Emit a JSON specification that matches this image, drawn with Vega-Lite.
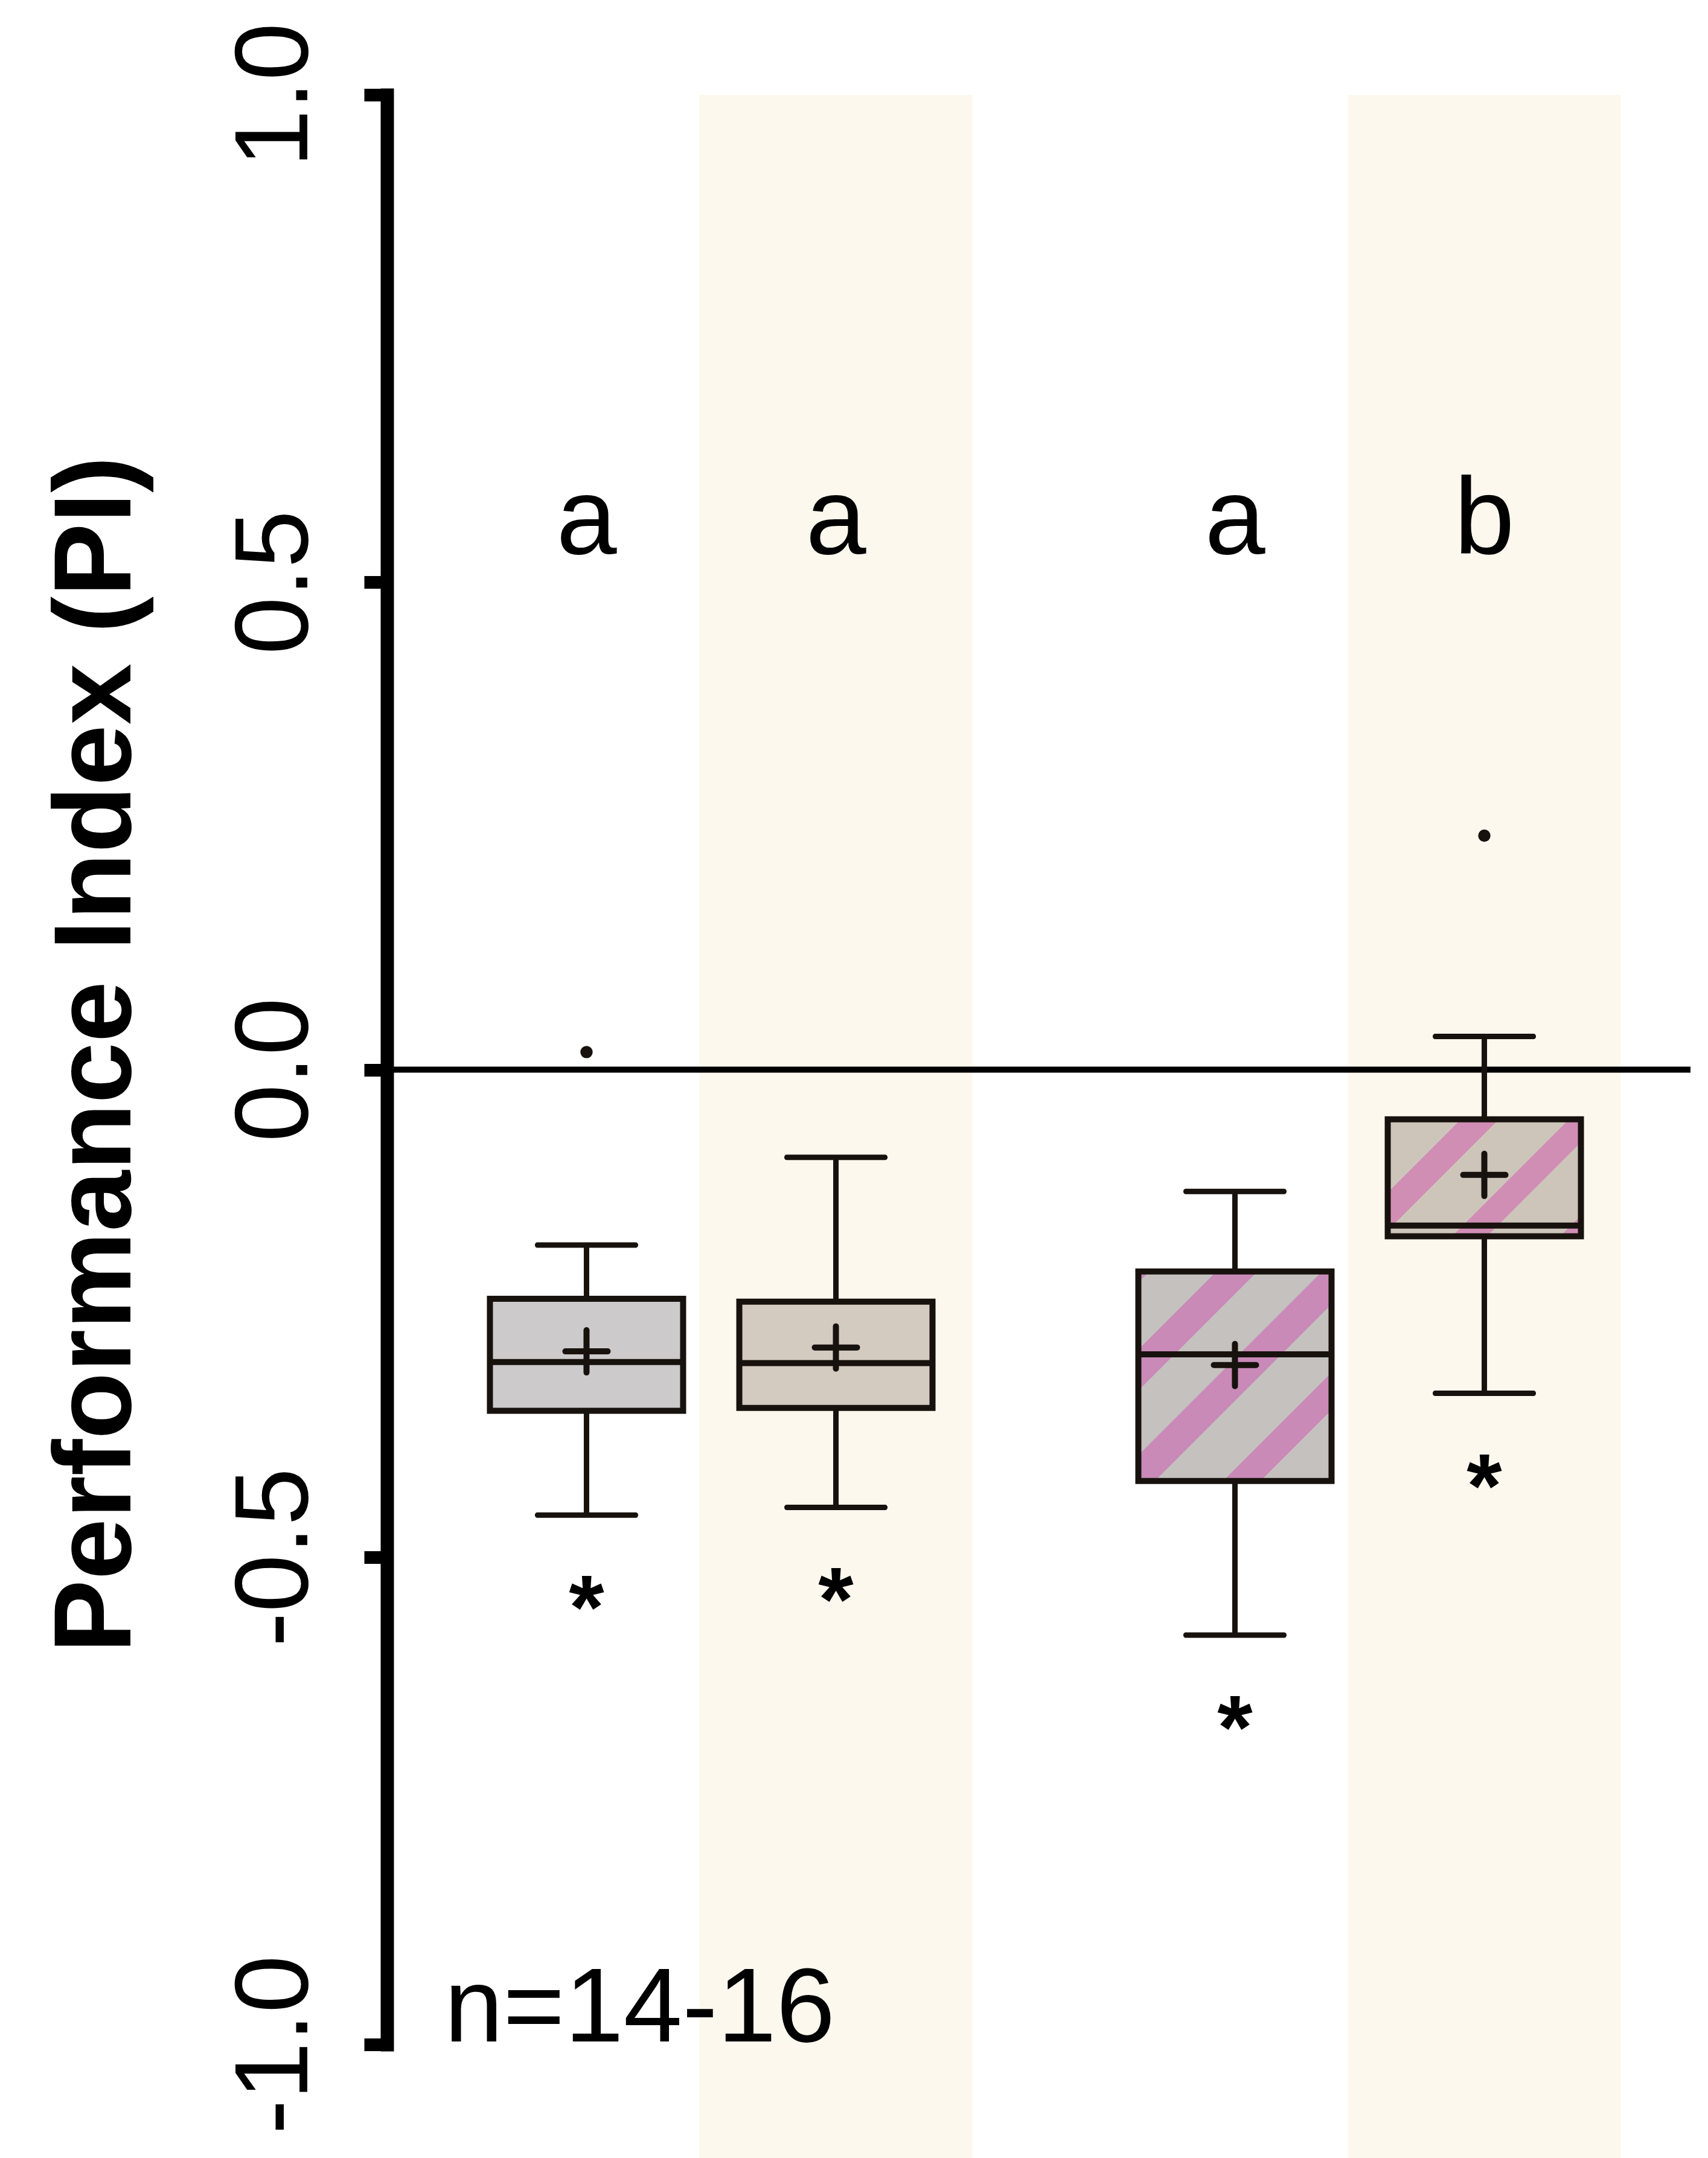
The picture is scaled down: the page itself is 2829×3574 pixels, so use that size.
{
  "$schema": "https://vega.github.io/schema/vega-lite/v6.json",
  "width": 2155,
  "height": 3229,
  "autosize": {"type": "none"},
  "padding": {"left": 645, "top": 157, "right": 29, "bottom": 188},
  "background": "white",
  "config": {
    "view": {"stroke": null},
    "font": "Liberation Sans",
    "axisY": {
      "domainColor": "#000000",
      "domainWidth": 22,
      "domainCap": "square",
      "tickColor": "#000000",
      "tickWidth": 21,
      "tickSize": 38,
      "offset": 4,
      "grid": false,
      "labelFont": "Liberation Sans",
      "labelFontSize": 172,
      "labelColor": "#000000",
      "labelAngle": 270,
      "labelAlign": "center",
      "labelBaseline": "alphabetic",
      "labelPadding": 95,
      "labelFlush": false,
      "labelOverlap": false,
      "labelBound": false,
      "labelLimit": 0,
      "titleFont": "Liberation Sans",
      "titleFontSize": 182,
      "titleFontWeight": "bold",
      "titleColor": "#000000",
      "titleLimit": 0
    }
  },
  "datasets": {
    "boxes": [
      {"set": "Set 1", "cond": "A", "lower": -0.457, "q1": -0.350, "median": -0.300, "q3": -0.235, "upper": -0.180, "mean": -0.289, "letter": "a", "sig": "*"},
      {"set": "Set 1", "cond": "B", "lower": -0.449, "q1": -0.347, "median": -0.301, "q3": -0.238, "upper": -0.090, "mean": -0.285, "letter": "a", "sig": "*"},
      {"set": "Set 2", "cond": "A", "lower": -0.580, "q1": -0.422, "median": -0.292, "q3": -0.207, "upper": -0.125, "mean": -0.303, "letter": "a", "sig": "*"},
      {"set": "Set 2", "cond": "B", "lower": -0.332, "q1": -0.171, "median": -0.160, "q3": -0.051, "upper": 0.034, "mean": -0.108, "letter": "b", "sig": "*"}
    ],
    "outliers": [
      {"set": "Set 1", "cond": "A", "value": 0.018},
      {"set": "Set 2", "cond": "B", "value": 0.240}
    ],
    "notes": [
      {"set": "Set 1", "note": "n=14-16", "level": -1.0}
    ]
  },
  "layer": [
    {
      "data": {"name": "boxes"},
      "transform": [{"filter": "datum.cond === 'B'"}],
      "mark": {"type": "bar", "width": 452, "fill": "#fdf8ee", "stroke": null},
      "encoding": {
        "x": {"field": "set", "type": "nominal", "scale": {"type": "band", "domain": ["Set 1", "Set 2"], "range": [-4, 2144], "paddingInner": 0, "paddingOuter": 0}, "axis": null},
        "xOffset": {"field": "cond", "type": "nominal", "scale": {"domain": ["A", "B"], "paddingInner": 0, "paddingOuter": 0.3}},
        "y": {"datum": 1, "type": "quantitative", "scale": {"domain": [-1, 1], "nice": false, "zero": false}},
        "y2": {"datum": -1.12}
      }
    },
    {
      "data": {"values": [{"ref": 0}]},
      "mark": {"type": "rule", "strokeWidth": 10, "color": "#000000"},
      "encoding": {
        "y": {"field": "ref", "type": "quantitative"}
      }
    },
    {
      "data": {"name": "boxes"},
      "mark": {"type": "rule", "strokeWidth": 9, "color": "#17120d"},
      "encoding": {
        "x": {"field": "set", "type": "nominal"},
        "xOffset": {"field": "cond", "type": "nominal"},
        "y": {"field": "lower", "type": "quantitative", "axis": {"values": [-1, -0.5, 0, 0.5, 1], "labelExpr": "datum.value < 0 ? '-' + format(-datum.value, '.1f') : format(datum.value, '.1f')", "title": "Performance Index (PI)", "titleX": -426, "titleY": 1589, "titleAngle": 270, "titleAlign": "center", "titleBaseline": "alphabetic"}},
        "y2": {"field": "upper"}
      }
    },
    {
      "data": {"name": "boxes"},
      "mark": {"type": "tick", "size": 171, "thickness": 9, "color": "#17120d", "opacity": 1, "cornerRadius": 4},
      "encoding": {
        "x": {"field": "set", "type": "nominal"},
        "xOffset": {"field": "cond", "type": "nominal"},
        "y": {"field": "lower", "type": "quantitative"}
      }
    },
    {
      "data": {"name": "boxes"},
      "mark": {"type": "tick", "size": 171, "thickness": 9, "color": "#17120d", "opacity": 1, "cornerRadius": 4},
      "encoding": {
        "x": {"field": "set", "type": "nominal"},
        "xOffset": {"field": "cond", "type": "nominal"},
        "y": {"field": "upper", "type": "quantitative"}
      }
    },
    {
      "data": {"name": "boxes"},
      "transform": [{"filter": "datum.set === 'Set 1'"}],
      "mark": {"type": "bar", "width": 320, "stroke": "#17120d", "strokeWidth": 10},
      "encoding": {
        "x": {"field": "set", "type": "nominal"},
        "xOffset": {"field": "cond", "type": "nominal"},
        "y": {"field": "q1", "type": "quantitative"},
        "y2": {"field": "q3"},
        "fill": {"field": "cond", "type": "nominal", "scale": {"domain": ["A", "B"], "range": ["#cccacb", "#d3cac0"]}, "legend": null}
      }
    },
    {
      "data": {"name": "boxes"},
      "transform": [{"filter": "datum.set === 'Set 2' && datum.cond === 'A'"}],
      "mark": {
        "type": "bar", "width": 320, "stroke": "#17120d", "strokeWidth": 10,
        "fill": {
          "gradient": "linear", "x1": 0, "y1": 0, "x2": 0.958, "y2": 1.039,
          "stops": [
            {"offset": 0, "color": "#c98ab8"},
            {"offset": 0.0275, "color": "#c98ab8"},
            {"offset": 0.0275, "color": "#c4c1bf"},
            {"offset": 0.194, "color": "#c4c1bf"},
            {"offset": 0.194, "color": "#c98ab8"},
            {"offset": 0.296, "color": "#c98ab8"},
            {"offset": 0.296, "color": "#c4c1bf"},
            {"offset": 0.456, "color": "#c4c1bf"},
            {"offset": 0.456, "color": "#c98ab8"},
            {"offset": 0.561, "color": "#c98ab8"},
            {"offset": 0.561, "color": "#c4c1bf"},
            {"offset": 0.730, "color": "#c4c1bf"},
            {"offset": 0.730, "color": "#c98ab8"},
            {"offset": 0.823, "color": "#c98ab8"},
            {"offset": 0.823, "color": "#c4c1bf"},
            {"offset": 1, "color": "#c4c1bf"}
          ]
        }
      },
      "encoding": {
        "x": {"field": "set", "type": "nominal"},
        "xOffset": {"field": "cond", "type": "nominal"},
        "y": {"field": "q1", "type": "quantitative"},
        "y2": {"field": "q3"}
      }
    },
    {
      "data": {"name": "boxes"},
      "transform": [{"filter": "datum.set === 'Set 2' && datum.cond === 'B'"}],
      "mark": {
        "type": "bar", "width": 320, "stroke": "#17120d", "strokeWidth": 10,
        "fill": {
          "gradient": "linear", "x1": 0, "y1": 0, "x2": 1.175, "y2": 0.711,
          "stops": [
            {"offset": 0, "color": "#cdc5ba"},
            {"offset": 0.236, "color": "#cdc5ba"},
            {"offset": 0.236, "color": "#d18eb5"},
            {"offset": 0.358, "color": "#d18eb5"},
            {"offset": 0.358, "color": "#cdc5ba"},
            {"offset": 0.584, "color": "#cdc5ba"},
            {"offset": 0.584, "color": "#d18eb5"},
            {"offset": 0.697, "color": "#d18eb5"},
            {"offset": 0.697, "color": "#cdc5ba"},
            {"offset": 0.933, "color": "#cdc5ba"},
            {"offset": 0.933, "color": "#d18eb5"},
            {"offset": 1, "color": "#d18eb5"}
          ]
        }
      },
      "encoding": {
        "x": {"field": "set", "type": "nominal"},
        "xOffset": {"field": "cond", "type": "nominal"},
        "y": {"field": "q1", "type": "quantitative"},
        "y2": {"field": "q3"}
      }
    },
    {
      "data": {"name": "boxes"},
      "mark": {"type": "tick", "size": 320, "thickness": 10, "color": "#17120d", "opacity": 1},
      "encoding": {
        "x": {"field": "set", "type": "nominal"},
        "xOffset": {"field": "cond", "type": "nominal"},
        "y": {"field": "median", "type": "quantitative"}
      }
    },
    {
      "data": {"name": "boxes"},
      "mark": {"type": "point", "shape": "M-1,0L1,0M0,-1L0,1", "size": 4900, "filled": false, "color": "#17120d", "strokeWidth": 10, "strokeCap": "round", "opacity": 1},
      "encoding": {
        "x": {"field": "set", "type": "nominal"},
        "xOffset": {"field": "cond", "type": "nominal"},
        "y": {"field": "mean", "type": "quantitative"}
      }
    },
    {
      "data": {"name": "outliers"},
      "mark": {"type": "point", "shape": "circle", "size": 415, "filled": true, "color": "#17120d", "opacity": 1},
      "encoding": {
        "x": {"field": "set", "type": "nominal"},
        "xOffset": {"field": "cond", "type": "nominal"},
        "y": {"field": "value", "type": "quantitative"}
      }
    },
    {
      "data": {"name": "boxes"},
      "mark": {"type": "text", "fontSize": 150, "fontWeight": "bold", "font": "Liberation Sans", "color": "#000000", "align": "center", "baseline": "alphabetic", "dy": 205},
      "encoding": {
        "x": {"field": "set", "type": "nominal"},
        "xOffset": {"field": "cond", "type": "nominal"},
        "y": {"field": "lower", "type": "quantitative"},
        "text": {"field": "sig"}
      }
    },
    {
      "data": {"name": "boxes"},
      "mark": {"type": "text", "fontSize": 180, "font": "Liberation Sans", "color": "#000000", "align": "center", "baseline": "alphabetic"},
      "encoding": {
        "x": {"field": "set", "type": "nominal"},
        "xOffset": {"field": "cond", "type": "nominal"},
        "y": {"datum": 0.529, "type": "quantitative"},
        "text": {"field": "letter"}
      }
    },
    {
      "data": {"name": "notes"},
      "mark": {"type": "text", "fontSize": 175, "font": "Liberation Sans", "color": "#000000", "align": "left", "baseline": "alphabetic", "dx": -442, "dy": -5},
      "encoding": {
        "x": {"field": "set", "type": "nominal"},
        "y": {"field": "level", "type": "quantitative"},
        "text": {"field": "note"}
      }
    }
  ]
}
